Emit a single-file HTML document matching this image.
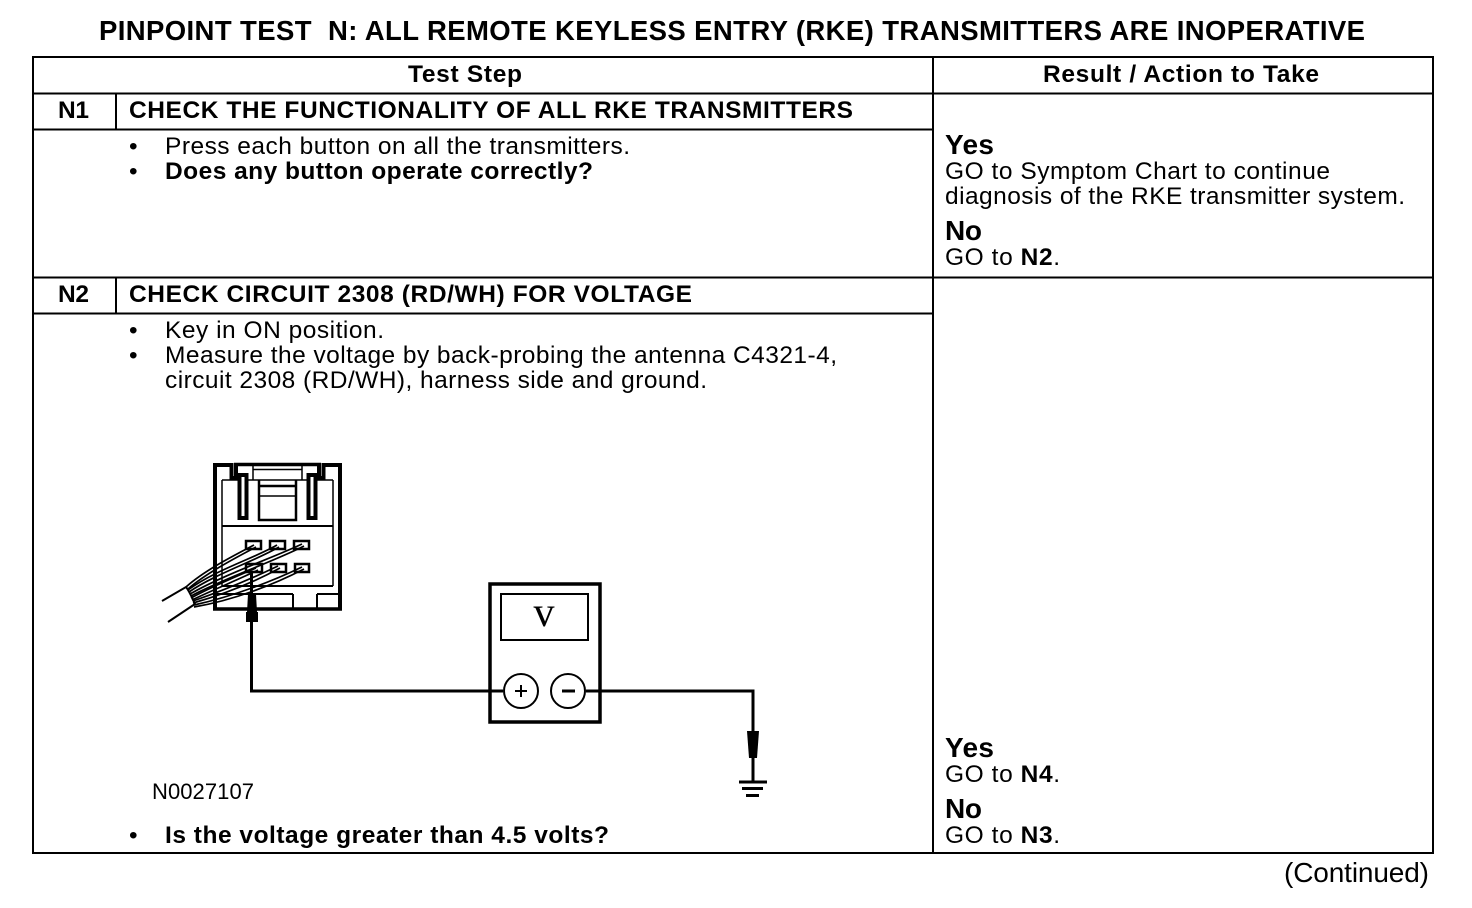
<!DOCTYPE html>
<html><head><meta charset="utf-8"><style>
html,body{margin:0;padding:0;background:#fff}
svg{display:block}
text{font-family:"Liberation Sans",sans-serif;fill:#000;white-space:pre}
.b{font-weight:bold}
.s24{font-size:24.500px}.s27{font-size:28px}
</style></head><body>
<svg width="1472" height="908" viewBox="0 0 1472 908" xmlns="http://www.w3.org/2000/svg">
<rect width="1472" height="908" fill="#fff"/>
<g stroke="#000" stroke-width="2" fill="none" shape-rendering="crispEdges">
<rect x="33" y="57" width="1400" height="796"/>
<path d="M33 93.500H1433M33 129.500H933M33 277.500H1433M33 313.500H933M933 57V853M116 93V129M116 277V313"/>
</g>
<text x="99" y="40" class="b" font-size="27.500" textLength="1266">PINPOINT TEST  N: ALL REMOTE KEYLESS ENTRY (RKE) TRANSMITTERS ARE INOPERATIVE</text>
<g class="s24">
<text x="408" y="82" class="b" textLength="114">Test Step</text>
<text x="1043" y="82" class="b" textLength="276">Result / Action to Take</text>
<text x="58" y="118" class="b" textLength="31">N1</text>
<text x="129" y="118" class="b" textLength="724">CHECK THE FUNCTIONALITY OF ALL RKE TRANSMITTERS</text>
<text x="129" y="154">•</text><text x="165" y="154" textLength="465">Press each button on all the transmitters.</text>
<text x="129" y="179">•</text><text x="165" y="179" class="b" textLength="428">Does any button operate correctly?</text>
<text x="945" y="179" textLength="385">GO to Symptom Chart to continue</text>
<text x="945" y="204" textLength="460">diagnosis of the RKE transmitter system.</text>
<text x="945" y="265" textLength="115">GO to <tspan class="b">N2</tspan>.</text>
<text x="58" y="302" class="b" textLength="31">N2</text>
<text x="129" y="302" class="b" textLength="563">CHECK CIRCUIT 2308 (RD/WH) FOR VOLTAGE</text>
<text x="129" y="338">•</text><text x="165" y="338" textLength="219">Key in ON position.</text>
<text x="129" y="363">•</text><text x="165" y="363" textLength="672">Measure the voltage by back-probing the antenna C4321-4,</text>
<text x="165" y="388" textLength="542">circuit 2308 (RD/WH), harness side and ground.</text>
<text x="129" y="843">•</text><text x="165" y="843" class="b" textLength="444">Is the voltage greater than 4.5 volts?</text>
<text x="945" y="782" textLength="115">GO to <tspan class="b">N4</tspan>.</text>
<text x="945" y="843" textLength="115">GO to <tspan class="b">N3</tspan>.</text>
</g>
<g class="s27">
<text x="945" y="154" class="b" textLength="49">Yes</text>
<text x="945" y="240" class="b" textLength="37">No</text>
<text x="945" y="757" class="b" textLength="49">Yes</text>
<text x="945" y="818" class="b" textLength="37">No</text>
<text x="1284" y="882" textLength="145">(Continued)</text>
</g>
<text x="152" y="799" font-size="22" textLength="102">N0027107</text>

<!-- connector -->
<g fill="none" stroke="#000" stroke-linejoin="miter">
<path stroke-width="4" d="M215 609V465H231.500V478H239.500V518H246.500V475H236V465"/>
<path stroke-width="4" d="M340 609V465H323.500V478H315.500V518H308.500V475H319V465"/>
<path stroke-width="3.500" d="M234 464.500H321M213 609H342"/>
<path stroke-width="1.500" d="M253 465V480M302 465V480M253 469.500H302"/>
<path stroke-width="1.500" d="M222 480V586M333 480V586M222 480H238M317 480H333M248 480H308"/>
<path stroke-width="2.500" d="M259 480V520H296V480M259 486H296"/>
<path stroke-width="1.500" d="M259 496H296"/>
<path stroke-width="2" d="M222 526H333M222 586H333M214 594H293M293 594V609M317 594H340M317 594V609"/>
<path stroke-width="2.500" d="M246 541H261V549H246ZM270 541H285V549H270ZM294 541H309V549H294ZM246 564H262V572H246ZM271 564H286V572H271ZM295 564H309V572H295Z"/>
<!-- cable -->
<path stroke-width="2" d="M162 601L186 587C190 592 193 600 195 604L168 622"/>
<g stroke-width="1.700" fill="none">
<path d="M186 587C205 570 235 555 254 545M188 589C205 574 235 558 256 547"/>
<path d="M188 590C215 570 255 558 277 545M189 592C215 574 255 561 279 547"/>
<path d="M190 594C225 574 275 557 302 544M191 596C225 578 275 561 304 546"/>
<path d="M191 598C215 585 240 575 256 568M192 600C215 589 242 578 258 570"/>
<path d="M193 601C225 590 255 577 278 566M193 603C225 594 256 581 280 568"/>
<path d="M194 605C235 596 275 580 302 567M194 607C235 600 275 584 304 569"/>
</g>
</g>
<!-- probe -->
<path d="M251.500 572V596" stroke="#000" stroke-width="3" fill="none"/>
<path d="M248 594H256L257 612H258V622H246V612H247Z" fill="#000"/>
<!-- wires -->
<path d="M251.500 622V691H503M586 691H753V732" fill="none" stroke="#000" stroke-width="3"/>
<path d="M753 757V782" fill="none" stroke="#000" stroke-width="3"/>
<path d="M747 731H759L757 758H749Z" fill="#000"/>
<path d="M739 782H767M742 788.500H763M746 795.500H759" stroke="#000" stroke-width="3" fill="none"/>
<!-- meter -->
<rect x="490" y="584" width="110" height="138" fill="none" stroke="#000" stroke-width="3.500"/>
<rect x="501" y="594" width="87" height="46" fill="none" stroke="#000" stroke-width="2"/>
<text x="544" y="626" text-anchor="middle" font-size="42" style="font-family:'Liberation Serif',serif">v</text>
<circle cx="521" cy="691" r="17" fill="#fff" stroke="#000" stroke-width="2"/>
<circle cx="568" cy="691" r="17" fill="#fff" stroke="#000" stroke-width="2"/>
<path d="M515 691H527M521 685V697" stroke="#000" stroke-width="2"/>
<path d="M562 691H575" stroke="#000" stroke-width="3"/>
</svg>
</body></html>
